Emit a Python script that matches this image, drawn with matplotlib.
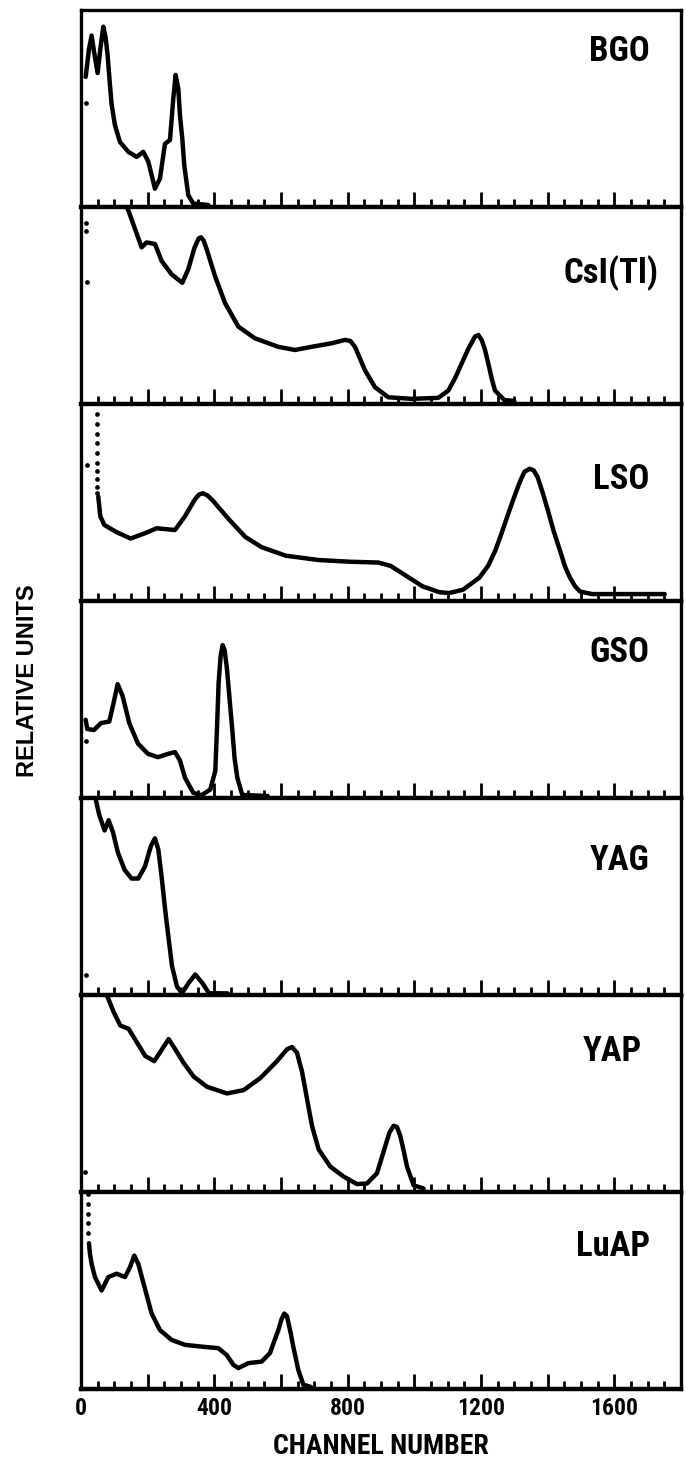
import matplotlib
matplotlib.use("Agg")
import matplotlib.pyplot as plt
from matplotlib import font_manager
from matplotlib.ticker import MultipleLocator, FuncFormatter

# ---------------- data (channel, relative units 0..100 per panel) ----------------
labels = ["BGO", "CsI(Tl)", "LSO", "GSO", "YAG", "YAP", "LuAP"]

bgo_x = [14, 17, 24, 32, 40, 50, 58, 67, 74, 80, 87, 92, 102, 117, 142, 167, 187, 202, 222, 237,
         252, 267, 277, 284, 292, 297, 304, 310, 322, 337, 382]
bgo_y = [66, 70, 80, 87, 78, 68, 80, 91.5, 86, 77, 62, 52, 41.5, 33, 28, 25.4, 28, 23, 9.3, 14.4,
         32, 34, 55, 67, 60, 46.6, 34.7, 21, 6, 1.7, 1]
bgo_dots_x = [14]
bgo_dots_y = [53]

csi_x = [135, 142, 162, 182, 197, 222, 242, 272, 304, 322, 340, 353, 360, 368, 377, 402, 432, 472, 522,
         592, 642, 692, 752, 792, 808, 822, 852, 882, 922, 992, 1072, 1102, 1122, 1142, 1162, 1182,
         1192, 1202, 1212, 1222, 1232, 1242, 1270, 1300]
csi_y = [101, 98.3, 88.9, 79.5, 82, 81.2, 72.6, 65.8, 61.5, 68.4, 79, 84, 84.6, 83, 78.6, 65, 51.3,
         39.3, 33.3, 29, 27.4, 29, 30.8, 32.5, 32, 29, 17.1, 8.5, 3.4, 2.6, 3.1, 6.8, 13, 20.5, 28,
         34.2, 35, 32.5, 27.5, 20.5, 13, 6.8, 2, 1.5]
csi_dots_x = [16, 16, 18]
csi_dots_y = [92, 88, 62]

lso_x = [52, 58, 70, 106, 149, 191, 227, 282, 312, 342, 354, 366, 380, 397, 445, 493, 542, 614, 711,
         808, 892, 929, 977, 1025, 1074, 1104, 1146, 1195, 1222, 1243, 1260, 1279, 1298, 1316, 1330,
         1346, 1358, 1370, 1385, 1400, 1418, 1437, 1452, 1467, 1482, 1497, 1533, 1751]
lso_y = [53, 43, 38.6, 35, 31.7, 34.3, 36.9, 36, 43, 51.6, 54, 54.7, 53.5, 50.7, 41.2, 32.5, 27.3, 23,
         20.8, 19.9, 19.5, 17.8, 12.6, 7.4, 4.5, 4, 5.7, 11.8, 18, 25.6, 33.5, 42.9, 52, 60.2, 65.5,
         67.1, 66.3, 62.8, 55, 46.4, 35.5, 25.6, 17.5, 11.8, 7.5, 4.8, 3.5, 3.5]
lso_dots_x = [48, 48, 48, 48, 48, 48, 48, 48, 49, 49, 19]
lso_dots_y = [95, 90, 85, 80, 75, 70, 66, 62, 58, 55, 69]

gso_x = [14, 19, 39, 60, 85, 98, 110, 125, 145, 171, 201, 231, 262, 282, 297, 312, 337, 362, 388,
         403, 408, 413, 419, 425, 431, 438, 446, 454, 461, 469, 484, 560]
gso_y = [39.7, 35, 34.5, 38, 38.8, 48.3, 57.8, 51.7, 38, 27.6, 22.4, 20.7, 22.4, 23.3, 19, 10.3, 2.6,
         1.4, 4.3, 13.8, 35, 58.6, 72, 77.6, 75, 65.5, 50, 34.5, 20, 10.3, 1.5, 1]
gso_dots_x = [14]
gso_dots_y = [29]

yag_x = [42, 55, 71, 83, 96, 111, 131, 152, 172, 192, 210, 222, 232, 242, 253, 263, 273, 288, 303,
         323, 343, 364, 384, 440]
yag_y = [101, 91.3, 83.5, 88.7, 82.6, 72.2, 63.5, 59.1, 59.1, 65.2, 75.7, 79.5, 73.9, 60, 42.6, 28.7,
         14.8, 4.3, 0.9, 6.1, 10.4, 6.1, 0.9, 0.8]
yag_dots_x = [15]
yag_dots_y = [10]

yap_x = [75, 98, 118, 143, 168, 193, 220, 243, 263, 283, 308, 338, 378, 438, 488, 538, 588, 618, 633,
         648, 663, 678, 693, 713, 748, 788, 828, 858, 888, 913, 925, 938, 948, 958, 968, 978, 998, 1028]
yap_y = [101, 91.4, 84.5, 82.8, 75.9, 69, 66.4, 72.4, 77.6, 72.4, 65.5, 58.6, 53.4, 50, 51.7, 57.8,
         66.4, 72.4, 73.6, 70.7, 61.2, 47.4, 33.6, 21.6, 12.9, 7.8, 4, 4.3, 9.5, 23.3, 30, 33.6, 33,
         28.4, 21, 12.9, 3.4, 1.7]
yap_dots_x = [13]
yap_dots_y = [10]

luap_x = [24, 27, 32, 42, 62, 82, 107, 132, 147, 160, 172, 192, 212, 237, 272, 312, 362, 412, 437,
          457, 472, 502, 542, 567, 592, 602, 610, 618, 629, 637, 652, 667, 690]
luap_y = [74, 68.6, 63.5, 56.8, 50, 56.8, 58.5, 56.8, 61.8, 67.7, 63.5, 50.9, 38.3, 29.9, 24.9, 22.4,
          21.5, 20.7, 17.3, 12.3, 10.6, 13.1, 13.9, 18.2, 29.9, 35.5, 38.3, 37, 28.5, 21.5, 9.7, 2.2, 1]
luap_dots_x = [20, 20, 21, 22, 22]
luap_dots_y = [99, 94, 89, 84, 79]

series_x = [bgo_x, csi_x, lso_x, gso_x, yag_x, yap_x, luap_x]
series_y = [bgo_y, csi_y, lso_y, gso_y, yag_y, yap_y, luap_y]
dots_x = [bgo_dots_x, csi_dots_x, lso_dots_x, gso_dots_x, yag_dots_x, yap_dots_x, luap_dots_x]
dots_y = [bgo_dots_y, csi_dots_y, lso_dots_y, gso_dots_y, yag_dots_y, yap_dots_y, luap_dots_y]

x_ticklabels = [0, 400, 800, 1200, 1600]
xlabel = "CHANNEL NUMBER"
ylabel = "RELATIVE UNITS"

# ---------------- fonts ----------------
avail = {f.name for f in font_manager.fontManager.ttflist}
cond = next((n for n in ["Liberation Sans Narrow", "Roboto Condensed", "Roboto", "Liberation Sans"]
             if n in avail), "DejaVu Sans")
reg = "Liberation Sans" if "Liberation Sans" in avail else "DejaVu Sans"

# ---------------- figure ----------------
fig = plt.figure(figsize=(6.86, 14.63), dpi=100)
axes = fig.subplots(7, 1, sharex=True,
                    gridspec_kw=dict(hspace=0, left=0.118, right=0.9927, top=0.9932, bottom=0.0506))

label_pos = [(0.948, 0.79), (0.962, 0.665), (0.948, 0.615), (0.948, 0.74),
             (0.948, 0.685), (0.935, 0.715), (0.948, 0.725)]

for i, ax in enumerate(axes):
    ax.plot(series_x[i], series_y[i], color="black", lw=3.2, solid_joinstyle="round",
            solid_capstyle="round", clip_on=True)
    ax.plot(dots_x[i], dots_y[i], "o", color="black", ms=3.4, mec="none")
    ax.set_xlim(0, 1800)
    ax.set_ylim(0, 100)
    ax.set_yticks([])
    for s in ax.spines.values():
        s.set_linewidth(2.4)
    ax.spines["bottom"].set_linewidth(3.2)
    tall_step = 200 if i == 6 else 100
    ax.xaxis.set_major_locator(MultipleLocator(tall_step))
    ax.xaxis.set_minor_locator(MultipleLocator(50))
    ax.tick_params(axis="x", which="major", direction="in", length=11, width=2.0,
                   top=False, bottom=True, labelbottom=False)
    ax.tick_params(axis="x", which="minor", direction="in", length=5.5, width=2.0,
                   top=False, bottom=True)
    lx, ly = label_pos[i]
    ax.text(lx, ly, labels[i], transform=ax.transAxes, ha="right", va="center",
            fontsize=25, fontweight="bold", family=cond)

bot = axes[-1]
bot.tick_params(axis="x", which="major", labelbottom=True, pad=6)
bot.xaxis.set_major_formatter(FuncFormatter(
    lambda v, p: f"{int(round(v))}" if int(round(v)) in x_ticklabels else ""))
for t in bot.get_xticklabels():
    t.set_family(cond)
    t.set_fontsize(17)
    t.set_fontweight("bold")
bot.set_xlabel(xlabel, family=cond, fontsize=20, fontweight="bold", labelpad=9)

fig.text(27 / 686, 0.535, ylabel, rotation=90, ha="center", va="center",
         family=reg, fontsize=17, fontweight="bold")

fig.savefig("out.png", dpi=100, facecolor="white")
